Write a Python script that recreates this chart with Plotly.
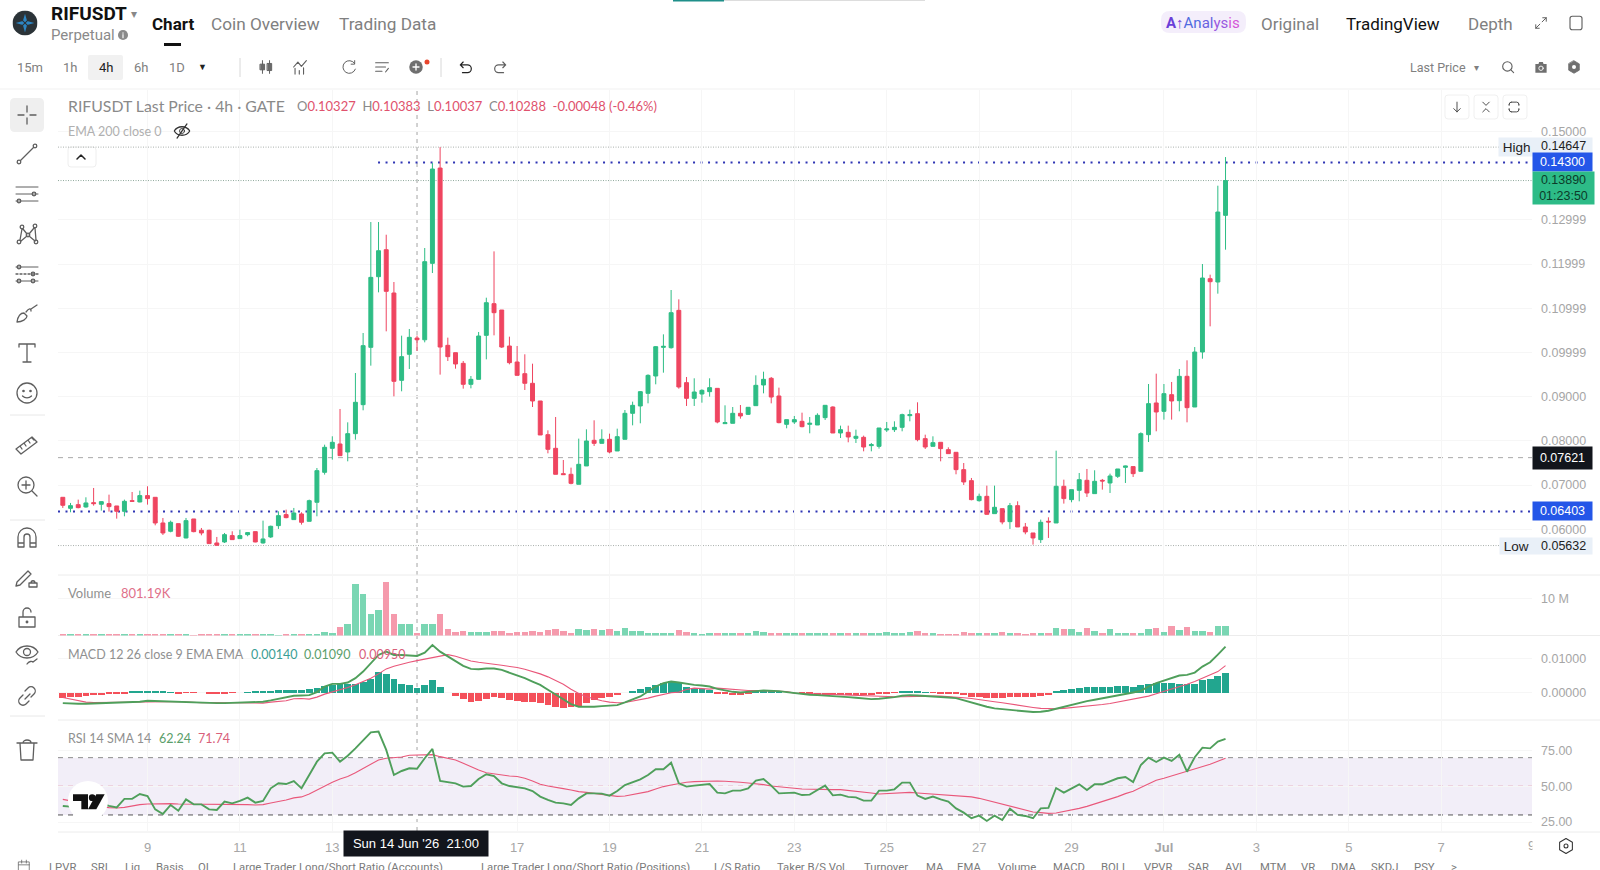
import base64

import pandas as pd
import plotly.graph_objects as go

W, H = 1600, 870

# 4h candles, RIFUSDT perpetual
FIRST_CANDLE = "2026-06-07 05:00"
OPENS = [
    .06724,.06475,.06558,.06505,.06603,.06566,.06581,.06528,.06407,.06648,
    .06618,.06762,.06724,.06143,.05955,.06128,.05804,.06234,.05977,.05977,
    .05691,.05713,.05857,.05789,.05879,.05947,.05691,.05827,.06083,.06332,
    .06219,.06347,.06181,.06611,.07289,.07832,.0793,.07749,.08164,.0882,
    .10117,.11715,.12326,.11346,.0937,.09959,.10327,.10288,.12017,.14173,
    .10162,.09996,.09755,.0928,.09393,.10388,.11105,.10961,.10147,.09785,
    .09521,.09303,.08903,.08141,.07832,.07259,.07244,.07018,.07433,.08013,
    .07945,.08036,.07772,.08036,.08624,.0879,.09076,.09468,.10117,.10109,
    .10954,.09318,.08963,.09061,.09114,.09189,.0839,.08398,.08624,.08601,
    .08797,.09265,.09416,.09016,.08375,.08428,.08443,.08375,.0836,.08526,
    .08767,.08179,.08194,.08058,.08081,.07893,.07877,.08247,.08254,.08307,
    .08571,.08616,.08051,.07877,.07968,.07802,.07742,.0735,.07101,.06648,
    .06746,.06354,.06467,.06173,.06535,.06053,.05917,.05766,.06181,.06143,
    .06973,.06671,.06882,.07108,.06807,.07108,.07048,.07199,.07402,.07418,
    .07312,.08141,.08858,.08669,.09046,.0891,.09461,.08767,.10011,.1167,.11595,.13103,
]
HIGHS = [
    .06724,.06596,.06671,.06724,.06935,.06633,.06784,.06528,.06671,.06844,
    .06875,.06973,.06724,.06256,.06196,.06128,.06256,.06234,.0603,.05992,
    .05827,.05917,.05955,.05992,.05932,.05947,.06196,.06083,.06407,.06445,
    .06483,.06385,.06671,.07387,.07915,.08104,.08722,.0842,.09536,.10441,
    .12952,.12952,.12665,.11595,.10381,.10532,.10383,.12364,.14286,.14647,
    .10336,.09996,.09808,.09468,.10464,.1124,.12288,.10961,.10358,.10147,
    .09959,.09747,.08903,.08239,.08541,.07568,.07395,.08051,.08262,.08466,
    .08262,.08164,.08277,.08699,.08888,.09129,.09506,.10147,.10411,.11414,
    .11203,.09446,.09416,.09167,.09416,.09189,.08805,.08767,.08812,.0876,
    .09483,.09566,.09446,.09205,.08481,.08564,.08639,.08541,.08624,.08805,
    .08782,.08345,.08345,.08254,.08119,.07953,.08292,.08428,.08443,.08616,
    .08707,.08873,.08141,.08104,.07968,.07855,.07742,.075,.07161,.06807,
    .06988,.06988,.06467,.06596,.06633,.06143,.05917,.06219,.06271,.07779,
    .07123,.06897,.07274,.07365,.07335,.07139,.07259,.07365,.0744,.07418,
    .08194,.09287,.09521,.09287,.09333,.09627,.09823,.10124,.12002,.11761,.13774,.14422,
]
LOWS = [
    .06483,.06385,.06475,.0649,.06535,.06422,.064,.06241,.06294,.06633,
    .06611,.06558,.0609,.05872,.05932,.05827,.05796,.05932,.05864,.05676,
    .05632,.05691,.05766,.05789,.05842,.05706,.05676,.05804,.06008,.06249,
    .06219,.06106,.06181,.06294,.07237,.07576,.07666,.07538,.08028,.08692,
    .09702,.11361,.10479,.09008,.09122,.09627,.10037,.1023,.11798,.09499,
    .09808,.09634,.09182,.09189,.09393,.09845,.10388,.10102,.09732,.09483,
    .09152,.08767,.08134,.07719,.07244,.07237,.07018,.07018,.07433,.07885,
    .07945,.07719,.07772,.08036,.08352,.08398,.0885,.0928,.09544,.10087,
    .09182,.0879,.0879,.08865,.09001,.08398,.0839,.08398,.08503,.08586,
    .08797,.09076,.0885,.08398,.08285,.08383,.08307,.08172,.0836,.08473,
    .08179,.08066,.07968,.07953,.07764,.07764,.07825,.08202,.08202,.08217,
    .08443,.07991,.07817,.07877,.07538,.07712,.07244,.07003,.06656,.06626,
    .06332,.06354,.06113,.06008,.06053,.05887,.05653,.05691,.05804,.06143,
    .06581,.06611,.06633,.06731,.06807,.06897,.06822,.07161,.07048,.07184,
    .07312,.07975,.08217,.08481,.08481,.08669,.0842,.08767,.0986,.10592,.11331,.12326,
]
CLOSES = [
    .06543,.06535,.0649,.06596,.06581,.06626,.06513,.06407,.06633,.06633,
    .06762,.06694,.06143,.05917,.06158,.05842,.06196,.05947,.05917,.05676,
    .05638,.05879,.05766,.05857,.05925,.05713,.05781,.06068,.06309,.06264,
    .06369,.06158,.06648,.07327,.07855,.07968,.07666,.08164,.08873,.10155,
    .117,.12303,.11384,.09348,.09906,.10343,.10288,.12055,.14151,.10124,
    .09906,.0974,.0928,.09393,.10373,.11127,.10901,.10124,.0977,.09483,
    .09303,.08903,.08134,.0781,.07244,.07237,.0704,.0747,.07998,.07945,
    .08036,.07749,.08096,.08624,.08805,.09114,.09483,.10132,.10139,.10901,
    .0922,.08963,.09106,.09144,.09205,.08428,.08413,.08624,.08564,.0876,
    .09257,.09393,.08993,.08413,.08481,.08481,.08322,.08398,.08579,.08805,
    .08179,.08254,.08089,.08104,.07862,.07915,.08292,.0827,.08307,.08594,
    .08594,.08028,.07862,.0796,.07825,.07712,.0735,.07071,.06671,.06746,
    .06339,.06498,.06166,.06535,.06053,.0594,.05804,.06158,.06166,.06973,
    .06694,.06897,.07123,.06822,.07086,.07093,.07206,.07365,.07433,.07259,
    .08164,.08843,.08654,.09069,.08903,.09461,.08752,.10011,.11685,.11602,.13178,.1389,
]
# Volume, in millions
VOLUMES = [
    .15,.3,.2,.2,.35,.3,.2,.3,.3,.3,
    .25,.15,.3,.3,.15,.15,.15,.12,.15,.2,
    .15,.15,.2,.15,.15,.3,.2,.15,.12,.3,
    .3,.3,.3,.3,1.07,.71,2.32,3.21,13.9,11.07,
    5.71,6.79,14.4,5.89,3.21,3.04,.80,3.21,3.04,5.71,
    1.7,.98,1.25,.89,1.07,.89,1.16,1.16,.8,.89,
    .98,1.16,1.07,1.43,1.61,1.25,.71,1.61,1.52,1.7,
    1.52,1.7,1.16,2.05,1.16,1.16,.71,.54,.54,.71,
    1.43,.89,.54,.36,.54,.8,.54,.54,.71,.54,
    1.34,.98,.63,.8,.54,.54,.54,.71,.54,.54,
    .54,.71,.54,.54,.54,.54,.71,.89,.71,.71,
    .89,1.16,.71,.54,.45,.36,.27,1.07,.54,.54,
    .54,.71,.89,.54,.54,.36,.71,.63,.54,2.05,
    1.61,1.61,.89,1.88,1.34,.63,1.61,.54,.71,.54,
    .54,1.61,1.96,.89,2.5,1.43,2.23,1.16,1.34,.89,2.5,2.5,
]
# MACD 12 26 9, in units of 0.0001
MACD_HIST = [
    -15,-13,-12,-10,-8,-7,-5,-5,-2,2,
    4,5,4,2,1,-2,-1,-1,0,-2,
    -2,-2,-1,0,1,2,4,5,8,9,
    9,9,12,15,20,24,27,27,25,31,
    41,62,57,40,27,22,14,22,37,17,
    0,-11,-18,-28,-25,-18,-13,-17,-21,-25,
    -27,-27,-31,-37,-43,-45,-43,-41,-31,-23,
    -17,-13,-8,0,6,11,17,22,29,34,
    29,17,10,10,8,-3,-5,-7,-7,-5,
    2,5,5,1,0,0,-1,-5,-7,-8,
    -7,-7,-8,-7,-8,-8,-5,-2,-1,3,
    6,4,1,-1,-2,-2,-4,-8,-13,-14,
    -16,-16,-16,-14,-14,-14,-14,-9,-6,3,
    8,11,14,16,17,17,17,19,19,17,
    22,27,29,29,29,27,27,27,39,42,50,60,
]
MACD_LINE = [
    -33,-35,-35,-35,-34,-33,-33,-33,-31,-31,
    -29,-26,-27,-28,-28,-30,-31,-32,-32,-33,
    -33,-33,-32,-31,-30,-29,-29,-25,-21,-17,
    -11,-10,-9,0,17,25,25,29,42,62,
    87,112,122,112,112,111,109,119,142,122,
    107,92,79,70,69,71,71,67,59,52,
    42,32,22,7,-8,-23,-36,-44,-45,-44,
    -42,-41,-39,-31,-23,-13,2,17,27,32,
    29,25,22,20,17,10,5,1,-1,0,
    3,5,5,3,0,-3,-6,-8,-9,-10,
    -12,-13,-15,-17,-19,-21,-20,-18,-15,-11,
    -9,-10,-11,-13,-14,-16,-18,-25,-32,-39,
    -44,-49,-51,-53,-55,-58,-60,-59,-56,-50,
    -44,-38,-31,-27,-23,-19,-15,-10,-5,-1,
    4,17,27,35,42,50,52,59,77,90,113,137,
]
MACD_SIGNAL = [
    -16,-21,-26,-30,-31,-31,-31,-31,-30,-30,
    -31,-31,-31,-30,-29,-28,-30,-31,-32,-31,
    -31,-31,-31,-31,-31,-31,-33,-30,-29,-26,
    -20,-19,-21,-15,-6,0,6,14,22,31,
    42,55,70,78,85,90,95,100,105,110,
    113,108,100,94,90,88,84,81,78,74,
    69,63,55,46,36,24,9,-4,-14,-21,
    -26,-30,-32,-31,-27,-24,-18,-12,-6,-2,
    0,8,12,10,9,12,10,8,6,5,
    5,4,4,3,2,-3,-4,-5,-6,-7,
    -8,-8,-9,-10,-11,-12,-13,-14,-14,-14,
    -13,-13,-12,-12,-12,-13,-14,-17,-19,-23,
    -26,-29,-32,-36,-39,-42,-46,-49,-50,-50,
    -49,-47,-45,-43,-40,-37,-34,-30,-25,-21,
    -18,-12,-5,2,8,17,24,32,42,51,62,80,
]
RSI_LINE = [
    36.3,35.8,37,38.1,38.1,38.1,36.3,35.3,41.2,41.2,
    44.6,43.2,33.9,30.7,37,33,40.9,37.4,37.4,33.9,
    33.5,39.3,38.1,39.8,42.1,38.6,39.8,48.6,52.1,51.6,
    53.7,48.6,57.9,67.2,73,73.5,67.2,71.4,76.5,82.4,
    87.7,88.2,75.4,57.9,60.7,62.6,62.24,69.6,76.1,53.7,
    52.8,52.1,49.8,50.2,55.1,58.4,57.2,52.1,50.2,49.3,
    48.6,46.7,42.8,40.5,38.6,38.1,37,41.6,45.1,45.1,
    44.9,43.5,46.7,50.9,52.8,54.9,57.9,61.9,61.9,66.5,
    52.1,49.8,50.5,50.9,51.6,45.6,45.1,47,47,48.6,
    54,55.1,50.5,45.1,45.6,45.6,43.9,44.2,47.4,50.5,
    43.7,44.2,42.6,42.3,40,40,47,47,47.9,52.6,
    52.6,43.5,41.2,42.8,40.9,39.3,34.6,31.6,27.7,29.5,
    25.8,29.5,26.5,34.4,30,29.3,27.7,34.6,34.9,48.8,
    45.6,48.6,51.4,47.4,51.4,51.4,53.3,55.6,56.5,53,
    64.9,70,67,70,67.7,72.1,60.2,70.3,77,76.5,81.2,83.1,
]
RSI_SMA = [
    40.9,39.8,38.8,37.7,36.7,35.8,35.1,34.9,35.3,36.3,
    37.2,37.7,37.9,37.9,37.9,37.7,37.7,37.7,37.7,37.7,
    37.7,37.4,37.2,37.2,37.2,37,37.2,38.4,39.3,40.5,
    41.9,42.6,44.6,47.4,50.5,52.8,55.1,56.8,59.5,62.3,
    65.6,68.4,69.6,70,70.5,71.7,71.74,72.1,72.1,70.7,
    69.8,68.4,66.1,63.7,61.4,59.5,58.6,57.9,57.2,56.8,
    55.6,53.7,51.4,50.2,49.5,48.4,47.4,46.3,45.8,45.1,
    44.2,43.2,43,43.2,44.2,44.9,46.3,48.1,49.8,50.9,
    52.1,52.8,53.3,53.5,53.7,53.7,53.5,53.3,52.8,52.3,
    51.9,51.2,50.2,49.5,49.1,48.6,48.1,47.9,47.7,47.7,
    47.7,47.7,47.2,46.7,46,45.3,44.6,44.9,45.3,45.8,
    45.8,45.3,44.9,44.6,44.4,44.2,43.7,43.2,42.6,41.6,
    40.2,38.8,37.4,36,34.6,33.5,32.1,31.6,31.1,31.4,
    32.3,33.5,34.6,36,37.7,39.3,40.9,42.8,44.9,46.5,
    49.1,51.6,54.2,55.6,57.2,59.1,60.2,62.3,63.7,65.4,67.5,69.6,
]

# Axis labelling
DAY_TICK_TIMES = ["2026-06-09 01:00", "2026-06-11 01:00", "2026-06-13 01:00",
                  "2026-06-17 01:00", "2026-06-19 01:00", "2026-06-21 01:00", "2026-06-23 01:00",
                  "2026-06-25 01:00", "2026-06-27 01:00", "2026-06-29 01:00", "2026-07-01 01:00",
                  "2026-07-03 01:00", "2026-07-05 01:00", "2026-07-07 01:00"]
DAY_TICK_TEXT = ["9", "11", "13", "17", "19", "21", "23", "25", "27", "29", "<b>Jul</b>", "3", "5", "7"]
PRICE_TICKS = [0.15, 0.13, 0.12, 0.11, 0.10, 0.09, 0.08, 0.07, 0.06]
PRICE_TICK_TEXT = ["0.15000", "0.12999", "0.11999", "0.10999", "0.09999", "0.09000", "0.08000", "0.07000", "0.06000"]

CROSSHAIR_TIME = "2026-06-14 21:00"
CROSSHAIR_PRICE = 0.07621
HIGH_PRICE, LOW_PRICE, LAST_PRICE = 0.14647, 0.05632, 0.13890
UPPER_LEVEL, LOWER_LEVEL = 0.14300, 0.06403
UPPER_LEVEL_START = "2026-06-14 00:45"
X_START, X_END = "2026-06-07 02:30", "2026-07-09 00:12"

BOTTOM_TABS = [("LPVR", 48), ("SRI", 90), ("Liq", 124), ("Basis", 155), ("OI", 197),
               ("Large Trader Long/Short Ratio (Accounts)", 232),
               ("Large Trader Long/Short Ratio (Positions)", 480),
               ("L/S Ratio", 713), ("Taker B/S Vol.", 776), ("Turnover", 863), ("MA", 925),
               ("EMA", 956), ("Volume", 997), ("MACD", 1052), ("BOLL", 1100), ("VPVR", 1143),
               ("SAR", 1187), ("AVL", 1224), ("MTM", 1259), ("VR", 1300), ("DMA", 1330),
               ("SKDJ", 1370), ("PSY", 1413), (">", 1450)]

UP, DOWN = "#2ebd85", "#ef4560"
UP_SOFT, DOWN_SOFT = "#7ad6b3", "#f59aac"
HIST_UP, HIST_DOWN = "#22a68f", "#f4505a"
LINE_GREEN, LINE_RED = "#4f9f5b", "#e9577a"
GRID = "#f6f6f6"
SEP = "#ececec"
AXIS_TEXT = "#a6a6a6"
UI_FONT = "Roboto"
CHART_FONT = "Lato"
NUM_FONT = "Liberation Sans"

times = pd.date_range(FIRST_CANDLE, periods=len(CLOSES), freq="4h")
rising = [c >= o for o, c in zip(OPENS, CLOSES)]
FOUR_HOURS_MS = 4 * 3600 * 1000


def px_x(x):
    return x / W


def px_y(y):
    return 1 - y / H


def domain(top, bottom):
    return [px_y(bottom), px_y(top)]


fig = go.Figure()

fig.add_trace(go.Candlestick(
    x=times, open=OPENS, high=HIGHS, low=LOWS, close=CLOSES, xaxis="x", yaxis="y",
    increasing=dict(line=dict(color=UP, width=1), fillcolor=UP),
    decreasing=dict(line=dict(color=DOWN, width=1), fillcolor=DOWN),
    hoverinfo="skip",
))
fig.add_trace(go.Bar(
    x=times, y=VOLUMES, xaxis="x", yaxis="y2", width=0.84 * FOUR_HOURS_MS,
    marker=dict(color=[UP_SOFT if r else DOWN_SOFT for r in rising], line_width=0),
))
fig.add_trace(go.Bar(
    x=times, y=[v * 1e-4 for v in MACD_HIST], xaxis="x", yaxis="y3", width=0.88 * FOUR_HOURS_MS,
    marker=dict(color=[HIST_UP if v >= 0 else HIST_DOWN for v in MACD_HIST], line_width=0),
))
fig.add_trace(go.Scatter(x=times, y=[v * 1e-4 for v in MACD_SIGNAL], xaxis="x", yaxis="y3", mode="lines",
                         line=dict(color=LINE_RED, width=1.1)))
fig.add_trace(go.Scatter(x=times, y=[v * 1e-4 for v in MACD_LINE], xaxis="x", yaxis="y3", mode="lines",
                         line=dict(color=LINE_GREEN, width=1.9)))
fig.add_trace(go.Scatter(x=times, y=RSI_SMA, xaxis="x", yaxis="y4", mode="lines",
                         line=dict(color=LINE_RED, width=1.1)))
fig.add_trace(go.Scatter(x=times, y=RSI_LINE, xaxis="x", yaxis="y4", mode="lines",
                         line=dict(color=LINE_GREEN, width=1.9)))

shapes = []


def hline(value, yref, color, dash, width=1, start=X_START):
    shapes.append(dict(type="line", xref="x", yref=yref, x0=start, x1=X_END, y0=value, y1=value,
                       layer="below", line=dict(color=color, width=width, dash=dash)))


def box(x0, y0, x1, y1, fill, line=None, radius=0):
    """Rounded panel under the icons and texts; coordinates are page pixels."""
    r = radius
    points = [("M", x0 + r, y0), ("L", x1 - r, y0), ("Q", x1, y0, x1, y0 + r), ("L", x1, y1 - r),
              ("Q", x1, y1, x1 - r, y1), ("L", x0 + r, y1), ("Q", x0, y1, x0, y1 - r), ("L", x0, y0 + r),
              ("Q", x0, y0, x0 + r, y0)]
    parts = []
    for p in points:
        coords = p[1:]
        pairs = [f"{px_x(coords[i]):.5f},{px_y(coords[i + 1]):.5f}" for i in range(0, len(coords), 2)]
        parts.append(p[0] + " ".join(pairs))
    shapes.append(dict(type="path", xref="paper", yref="paper", path=" ".join(parts) + " Z",
                       fillcolor=fill, layer="below", line=dict(color=line or fill, width=1 if line else 0)))


def rule(x0, y0, x1, y1, color=SEP, width=1):
    shapes.append(dict(type="line", xref="paper", yref="paper", x0=px_x(x0), x1=px_x(x1),
                       y0=px_y(y0), y1=px_y(y1), layer="below", line=dict(color=color, width=width)))


# RSI band and level lines
shapes.append(dict(type="rect", xref="x", yref="y4", x0=X_START, x1=X_END, y0=30, y1=70,
                   fillcolor="#f2eef8", layer="below", line_width=0))
hline(70, "y4", "#8a8a8a", "5px,5px")
hline(50, "y4", "#d9637c", "5px,5px")
hline(30, "y4", "#555555", "5px,5px")

# Price levels
hline(HIGH_PRICE, "y", "#a9b0ad", "1px,1.5px")
hline(LOW_PRICE, "y", "#a9b0ad", "1px,1.5px")
hline(LAST_PRICE, "y", "#8fa89c", "1px,1.5px")
hline(CROSSHAIR_PRICE, "y", "#a8a8a8", "5px,5px")
hline(UPPER_LEVEL, "y", "#2f35b4", "2px,5.5px", width=2, start=UPPER_LEVEL_START)
hline(LOWER_LEVEL, "y", "#2f35b4", "2px,5.5px", width=2)

# Vertical crosshair through all panes
shapes.append(dict(type="line", xref="x", yref="paper", x0=CROSSHAIR_TIME, x1=CROSSHAIR_TIME,
                   y0=px_y(831), y1=px_y(90), layer="below",
                   line=dict(color="#b4b4b4", width=1.2, dash="4px,4px")))

# Pane separators and header rules
for sep_y in (575, 635.5, 720, 832):
    rule(58, sep_y, W, sep_y)
rule(0, 89, W, 89, "#f1f1f1")

# Header decorations
box(673, 0, 724, 1.5, "#1f8f8a")
box(724, 0, 925, 1, "#dddddd")
box(164, 43, 181, 46, "#111111")
box(88, 55, 123, 80, "#f1f1f1", radius=2)
box(1161, 11, 1246, 33, "#f4eefb", radius=9)
box(10, 98, 44, 132, "#efefef", radius=5)
rule(240, 58, 240, 77, "#d8d8d8")
rule(441, 58, 441, 77, "#d8d8d8")
for sep_y, sep_end in ((415, 45), (520, 45), (716, 45)):
    rule(10, sep_y, sep_end, sep_y, "#e8e8e8")

# Overlay buttons
box(68, 147, 96, 167, "#ffffff", "#eeeeee", radius=3)
for bx in (1445, 1474, 1503):
    box(bx, 95, bx + 24, 119, "#ffffff", "#f0f0f0", radius=3)

annotations = []


def label(x, y, text, size=13, color="#888888", font=UI_FONT, anchor="left", **kw):
    annotations.append(dict(xref="paper", yref="paper", x=px_x(x), y=px_y(y), text=text, showarrow=False,
                            xanchor=anchor, yanchor="middle", borderpad=0,
                            font=dict(family=font, size=size, color=color), **kw))


def tag(y_value, text, fill, color, x0=1532, x1=1591, height=18, align="center", size=12.5, yshift=0):
    annotations.append(dict(xref="paper", yref="y", x=px_x(x0), y=y_value, text=text, showarrow=False,
                            xanchor="left", yanchor="middle", width=x1 - x0, height=height, align=align,
                            bgcolor=fill, borderpad=0, yshift=yshift,
                            font=dict(family=NUM_FONT, size=size, color=color)))


# Price tags on the right axis
tag(HIGH_PRICE, " High", "#e9f0f8", "#222222", x0=1498, align="left", size=13.5)
label(1540, 146, f"{HIGH_PRICE:.5f}", 12.5, "#222222", NUM_FONT)
tag(UPPER_LEVEL, f"{UPPER_LEVEL:.5f}", "#2456e8", "#ffffff")
tag(LAST_PRICE, f"{LAST_PRICE:.5f}<br>01:23:50", "#2dbb87", "#0c3b2a", x1=1593, height=32, yshift=-7)
tag(CROSSHAIR_PRICE, f"{CROSSHAIR_PRICE:.5f}", "#12151c", "#ffffff", height=22)
tag(LOWER_LEVEL, f"{LOWER_LEVEL:.5f}", "#2456e8", "#ffffff")
tag(LOW_PRICE, " Low", "#e9f0f8", "#222222", x0=1499, align="left", height=16, size=13.5)
label(1540, 546, f"{LOW_PRICE:.5f}", 12.5, "#222222", NUM_FONT)

# Top navigation
label(50, 14, "<b>RIFUSDT</b>", 19, "#111111")
label(130, 14, "▾", 12, "#888888")
label(50, 35, "Perpetual", 15, "#8a8a8a")
label(151, 24, "<b>Chart</b>", 17, "#111111")
label(210, 24, "Coin Overview", 17.2, "#808080")
label(338, 24, "Trading Data", 17.2, "#808080")
label(1165, 23, "<span style='color:#6a3fd8'><b>A</b></span><span style='color:#7a48d8'><b>↑</b></span>"
                "<span style='color:#4f6be0'>An</span><span style='color:#6a62e0'>al</span>"
                "<span style='color:#9a5ae0'>ys</span><span style='color:#d455d8'>is</span>", 15, "#6a3fd8")
label(1260, 24, "Original", 17, "#808080")
label(1345, 24, "TradingView", 17, "#111111")
label(1467, 24, "Depth", 17, "#808080")

# Interval toolbar
for text, cx, col in (("15m", 29.5, "#808080"), ("1h", 70, "#808080"), ("4h", 105.5, "#222222"),
                      ("6h", 141, "#808080"), ("1D", 176.5, "#808080")):
    label(cx, 67, text, 13, col, anchor="center")
label(203, 67, "▼", 9, "#222222", anchor="center")
label(1409, 67, "Last Price", 12.5, "#808080")
label(1476, 67, "▾", 10, "#808080", anchor="center")

# Pane legends
label(67, 106, "RIFUSDT Last Price · 4h · GATE", 15.8, "#8a8a8a", CHART_FONT)
label(296, 106, "<span style='color:#8a8a8a'>O</span>0.10327  <span style='color:#8a8a8a'>H</span>0.10383  "
                "<span style='color:#8a8a8a'>L</span>0.10037  <span style='color:#8a8a8a'>C</span>0.10288  "
                "-0.00048 (-0.46%)", 13, "#e0526d", CHART_FONT)
label(67, 131, "EMA 200 close 0", 12.5, "#b0b0b0", CHART_FONT)
label(67, 593, "Volume", 13, "#909090", CHART_FONT)
label(120, 593, "801.19K", 13, "#e0708a", CHART_FONT)
label(67, 654, "MACD 12 26 close 9 EMA EMA", 12.5, "#909090", CHART_FONT)
label(250, 654, "0.00140", 12.5, "#3a9e94", CHART_FONT)
label(303, 654, "0.01090", 12.5, "#5a9e6a", CHART_FONT)
label(358, 654, "0.00950", 12.5, "#d9607a", CHART_FONT)
label(67, 738, "RSI 14 SMA 14", 12.5, "#909090", CHART_FONT)
label(158, 738, "62.24", 12.5, "#5a9e6a", CHART_FONT)
label(197, 738, "71.74", 12.5, "#d9607a", CHART_FONT)

# Crosshair time label
annotations.append(dict(xref="paper", yref="paper", x=px_x(416), y=px_y(843.5), showarrow=False,
                        text="Sun 14 Jun '26  21:00", width=144, height=25, bgcolor="#12151c",
                        xanchor="center", yanchor="middle", borderpad=0,
                        font=dict(family=NUM_FONT, size=13, color="#ffffff")))

# Bottom indicator tabs, running off the page edge
for text, tx in BOTTOM_TABS:
    label(tx, 867, text, 11.3, "#7a7a7a")

# Next day label, cut off by the end of the time axis
label(1531, 845, "9", 13, AXIS_TEXT, NUM_FONT, anchor="center")
annotations.append(dict(xref="paper", yref="paper", x=px_x(1532), y=px_y(845), showarrow=False, text=" ",
                        width=16, height=18, bgcolor="#ffffff", xanchor="left", yanchor="middle", borderpad=0))

# Icons
STROKE = "#5f5f5f"
images = []


def icon(cx, cy, body, size=24, stroke=STROKE, sw=1.3):
    svg = (f"<svg xmlns='http://www.w3.org/2000/svg' width='{size*2}' height='{size*2}' viewBox='0 0 24 24' "
           f"fill='none' stroke='{stroke}' stroke-width='{sw}' stroke-linecap='round' stroke-linejoin='round'>"
           f"{body}</svg>")
    source = "data:image/svg+xml;base64," + base64.b64encode(svg.encode()).decode()
    images.append(dict(source=source, xref="paper", yref="paper", x=px_x(cx), y=px_y(cy), sizex=size / W,
                       sizey=size / H, xanchor="center", yanchor="middle", sizing="stretch", layer="above"))


def dot(x, y, r=1.8):
    return f"<circle cx='{x}' cy='{y}' r='{r}'/>"


CROSS = "<path d='M12 3v6M12 15v6M3 12h6M15 12h6'/>"
TREND = dot(4, 20) + dot(20, 4) + "<path d='M5.5 18.5L18.5 5.5'/>"
PARALLEL = "<path d='M1 5h22M1 12h22M1 19h22' stroke-width='1'/>" + dot(19, 12) + dot(4, 19)
PATTERN = dot(4, 20) + dot(7, 5) + dot(13, 13) + dot(20, 4) + dot(21, 20) + "<path d='M5 18L7 7M8 7L12 12M14 12L19 6M20 6L21 18M6 19L12 14M14 14L20 19'/>"
FIB = "<path d='M1 5h22M1 19h22' stroke-width='1'/><path d='M1 12h22' stroke-dasharray='2 2'/>" + dot(4, 5) + dot(18, 12) + dot(4, 19) + dot(18, 19)
BRUSH = "<path d='M2 21c1-6 4-9 7-9l3 3c0 3-5 6-10 6zM11 11c3-4 5-4 5-1M16 8l6-4'/>"
ICON_T = "<path d='M4 6V3h16v3M12 3v18M8 21h8'/>"
SMILE = "<circle cx='12' cy='12' r='10'/><circle cx='8.5' cy='10' r='.7'/><circle cx='15.5' cy='10' r='.7'/><path d='M7.5 15c2.5 2.5 6.5 2.5 9 0'/>"
RULER = "<path d='M1 16L17 4l5 5L6 21zM5 13l2 3M9 10l2 3M13 7l2 3M17 5l2 2'/>"
ZOOM_IN = "<circle cx='11' cy='11' r='8'/><path d='M17 17l5 5M11 7v8M7 11h8'/>"
MAGNET = "<path d='M3 21V11a9 9 0 0 1 18 0v10h-6V11a3 3 0 0 0-6 0v10zM3 17h6M15 17h6'/>"
PENCIL_LOCK = "<path d='M2 15L13 4l3 3L5 18l-4 1zM14 20h8v-4h-8zM16 16c0-3 4-3 4 0'/>"
LOCK_OPEN = "<path d='M4 11h16v10H4zM8 11V6a4 4 0 0 1 8 0'/><circle cx='12' cy='16' r='.8'/>"
EYE = "<path d='M1 9c5-8 17-8 22 0c-5 8-17 8-22 0z'/><circle cx='12' cy='9' r='3.5'/><path d='M12 21c2-3 5-3 6-2M18 19l4-3'/>"
LINK = "<path d='M10 15l5-5M8 11l-3 3a4 4 0 0 0 6 6l3-3M16 13l3-3a4 4 0 0 0-6-6l-3 3'/>"
TRASH = "<path d='M2 5h20M5 5l1 17h12l1-17M8 5c0-4 8-4 8 0'/>"
CANDLES = "<path d='M7 3v18M17 3v18' stroke-width='1.4'/><path d='M4 8h6v8H4zM14 7h6v10h-6z' fill='#6a6a6a'/>"
INDICATOR = "<path d='M5 22v-8M11 22v-5M17 22v-9M3 12l6-7 5 6 7-8' stroke-width='1.6'/>"
REFRESH = "<path d='M20 7a9 9 0 1 0 1 8M20 3v5h-5' stroke-width='1.4'/>"
LIST_ICON = "<path d='M3 6h18M3 12h14M3 18h9M17 19l4-5' stroke-width='1.5'/>"
PLUS = "<circle cx='12' cy='12' r='9' fill='#6f6f6f' stroke='none'/><path d='M12 8v8M8 12h8' stroke='#ffffff' stroke-width='1.8'/>"
UNDO = "<path d='M8 5L4 9l4 4M4 9h10a5 5 0 0 1 0 11H7' stroke='#222' stroke-width='1.7'/>"
REDO = "<path d='M16 5l4 4-4 4M20 9H10a5 5 0 0 0 0 11h7' stroke-width='1.7'/>"
SEARCH = "<circle cx='11' cy='11' r='7.5' stroke-width='1.8'/><path d='M17 17l4 4' stroke-width='1.8'/>"
CAMERA = "<path d='M3 7h18v14H3z' fill='#6f6f6f' stroke='none'/><path d='M8 7l1-3h6l1 3' fill='#6f6f6f' stroke='none'/><circle cx='12' cy='14' r='3.5' stroke='#ffffff' stroke-width='1.4'/>"
GEAR = "<path d='M12 2l8.5 5v10L12 22l-8.5-5V7z' fill='#6f6f6f' stroke='#6f6f6f'/><circle cx='12' cy='12' r='3.2' fill='#ffffff' stroke='none'/>"
EXPAND = "<path d='M14 10l7-7M15 3h6v6M10 14l-7 7M3 15v6h6' stroke-width='1.7'/>"
SQUARE = "<rect x='4' y='3' width='16' height='18' rx='3' stroke-width='1.5'/>"
INFO = "<circle cx='12' cy='12' r='11' fill='#8a8a8a' stroke='none'/><path d='M12 11v7M12 7v1' stroke='#ffffff' stroke-width='2.5'/>"
ARROW_DOWN = "<path d='M12 3v18M6 15l6 6 6-6' stroke='#333' stroke-width='1.6'/>"
COLLAPSE = "<path d='M6 3l6 6 6-6M6 21l6-6 6 6' stroke='#333' stroke-width='1.6'/>"
FRAME = "<path d='M7 3h10a4 4 0 0 1 4 4M3 7a4 4 0 0 1 4-4M7 21h10a4 4 0 0 0 4-4M3 17a4 4 0 0 0 4 4M3 7v2M21 7v2M3 15v2M21 15v2' stroke='#333' stroke-width='1.6'/>"
CHEVRON_UP = "<path d='M4 16l8-8 8 8' stroke='#222' stroke-width='3'/>"
EYE_OFF = "<path d='M1 12c5-8 17-8 22 0c-5 8-17 8-22 0z' stroke='#333' stroke-width='1.8'/><circle cx='12' cy='12' r='3.5' stroke='#333'/><path d='M19 2L5 22' stroke='#333' stroke-width='1.8'/>"
HEX = "<path d='M12 1.5l9 5.2v10.6l-9 5.2-9-5.2V6.7z' stroke='#333' stroke-width='1.5'/><circle cx='12' cy='12' r='2.8' stroke='#333' stroke-width='1.5'/>"
CALENDAR = "<path d='M3 5h18v16H3zM3 10h18M8 2v5M16 2v5'/>"
LOGO = ("<circle cx='12' cy='12' r='12' fill='#2b3338' stroke='none'/>"
        "<path d='M12 3L14 10L21 12L14 14L12 21L10 14L3 12L10 10Z' fill='#2d86c4' stroke='none'/>"
        "<path d='M8 8L16 16M16 8L8 16' stroke='#2b3338' stroke-width='1'/>")
TV_MARK = ("<circle cx='12' cy='12' r='12' fill='#ffffff' stroke='none'/>"
           "<path d='M3 8h9v9H8v-5H3z' fill='#111' stroke='none'/><circle cx='14.5' cy='10' r='2' fill='#111' stroke='none'/>"
           "<path d='M17 8h5l-5 9h-5z' fill='#111' stroke='none'/>")

for cy, body in ((115, CROSS), (154, TREND), (194, PARALLEL), (234, PATTERN), (274, FIB), (313, BRUSH),
                 (353, ICON_T), (393, SMILE), (445, RULER), (486, ZOOM_IN), (538, MAGNET), (579, PENCIL_LOCK),
                 (618, LOCK_OPEN), (655, EYE), (696, LINK), (750, TRASH)):
    icon(27, cy, body, 24)
icon(25, 23, LOGO, 25)
icon(123, 35, INFO, 11)
icon(266, 67, CANDLES, 17)
icon(300, 67, INDICATOR, 17)
icon(349, 67, REFRESH, 17)
icon(382, 67, LIST_ICON, 17)
icon(416, 67, PLUS, 18)
icon(466, 67, UNDO, 17)
icon(500, 67, REDO, 17)
icon(1508, 67, SEARCH, 15)
icon(1541, 67, CAMERA, 15)
icon(1574, 67, GEAR, 15)
icon(1541, 23, EXPAND, 14)
icon(1576, 23, SQUARE, 18)
icon(1457, 107, ARROW_DOWN, 13)
icon(1486, 107, COLLAPSE, 13)
icon(1514, 107, FRAME, 13)
icon(81, 157, CHEVRON_UP, 12)
icon(182, 131, EYE_OFF, 17)
icon(1566, 846, HEX, 17)
icon(24, 866, CALENDAR, 14)
icon(88, 801, TV_MARK, 40)
shapes.append(dict(type="circle", xref="paper", yref="paper", x0=px_x(427 - 2.5), x1=px_x(427 + 2.5),
                   y0=px_y(64.5), y1=px_y(59.5), fillcolor="#e8452c", line_width=0, layer="above"))

value_axis = dict(side="right", anchor="x", showgrid=True, gridcolor=GRID, zeroline=False, showline=False,
                  ticks="", ticklabelstandoff=8, tickfont=dict(family=NUM_FONT, size=12.5, color=AXIS_TEXT),
                  tickmode="array", fixedrange=True)

fig.update_layout(
    width=W, height=H, margin=dict(l=0, r=0, t=0, b=0), autosize=False,
    paper_bgcolor="#ffffff", plot_bgcolor="#ffffff", showlegend=False, hovermode=False,
    bargap=0, boxgap=0.27,
    xaxis=dict(domain=[px_x(58), px_x(1532)], anchor="y4", type="date", range=[X_START, X_END],
               rangeslider=dict(visible=False), tickmode="array", tickvals=DAY_TICK_TIMES,
               ticktext=DAY_TICK_TEXT, ticks="", ticklabelstandoff=6, showgrid=True, gridcolor=GRID,
               zeroline=False, showline=False, tickfont=dict(family=NUM_FONT, size=13, color=AXIS_TEXT)),
    yaxis=dict(domain=domain(90, 575), range=[0.04966, 0.15939], tickvals=PRICE_TICKS,
               ticktext=PRICE_TICK_TEXT, **value_axis),
    yaxis2=dict(domain=domain(575, 635.5), range=[0, 16.2], tickvals=[10], ticktext=["10 M"], **value_axis),
    yaxis3=dict(domain=domain(635.5, 720), range=[-0.00839, 0.01706], tickvals=[0.01, 0.0],
                ticktext=["0.01000", "0.00000"], **value_axis),
    yaxis4=dict(domain=domain(720, 832), range=[18.1, 96.3], tickvals=[75, 50, 25],
                ticktext=["75.00", "50.00", "25.00"], **value_axis),
    shapes=shapes, annotations=annotations, images=images,
)

fig.write_html("out.html", config={"displayModeBar": False})
